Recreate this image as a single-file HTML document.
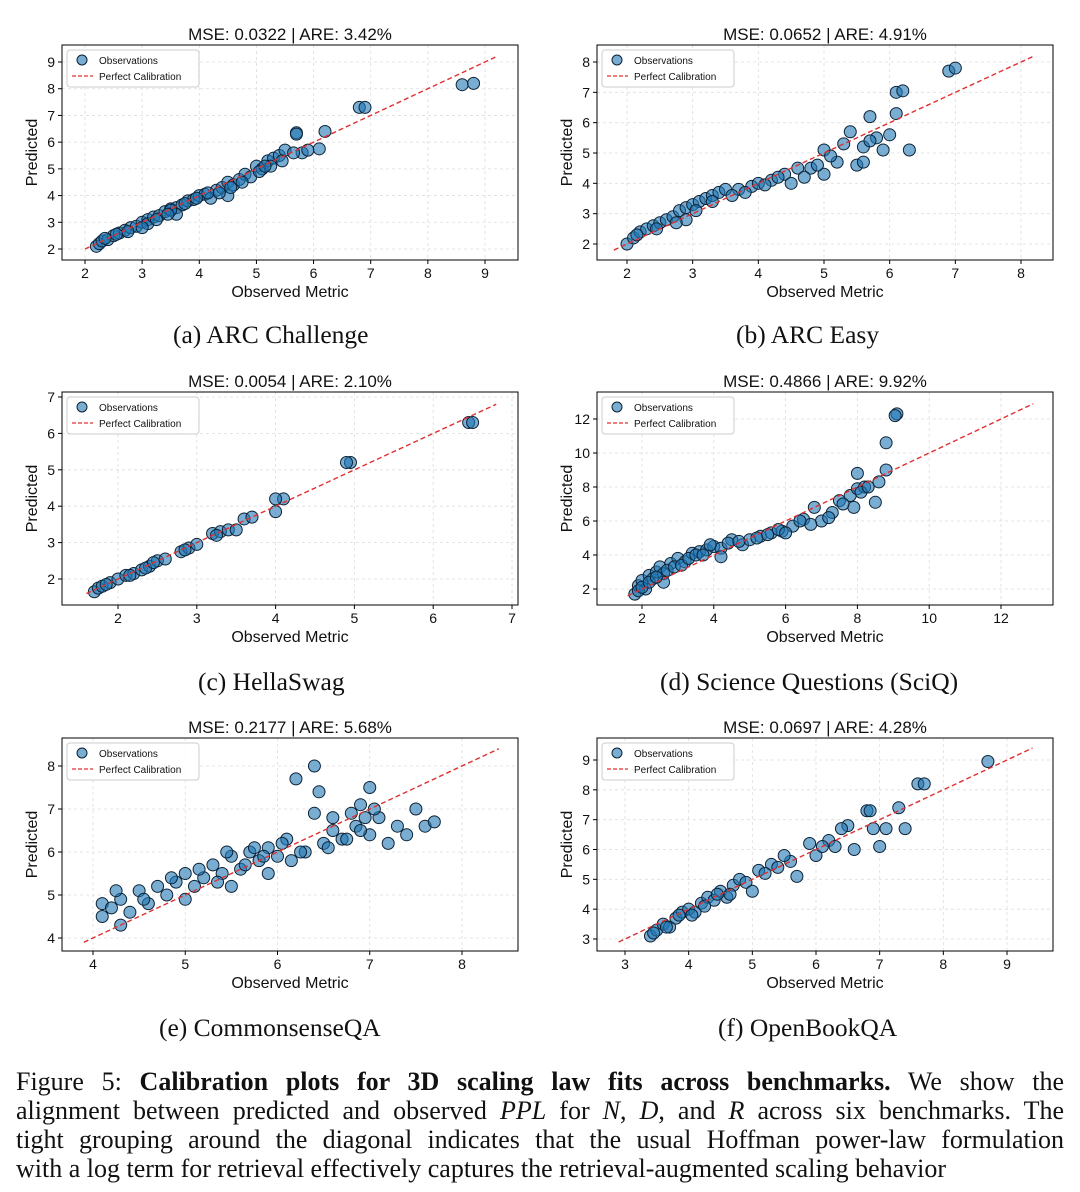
<!DOCTYPE html>
<html><head><meta charset="utf-8">
<style>
html,body{margin:0;padding:0;background:#fff;}
body{width:1080px;height:1192px;overflow:hidden;position:relative;}
svg{position:absolute;left:0;top:0;}
.cap{position:absolute;font-family:"Liberation Serif",serif;font-size:25.5px;color:#111;white-space:nowrap;}
#figcap{position:absolute;left:16px;top:1067px;width:1048px;font-family:"Liberation Serif",serif;font-size:26px;line-height:29px;color:#111;}
#figcap div{text-align:justify;text-align-last:justify;white-space:nowrap;}
</style></head><body>
<svg id="chart" width="1080" height="1192"></svg>
<div class="cap" style="left:173px;top:320px">(a) ARC Challenge</div>
<div class="cap" style="left:736px;top:320px">(b) ARC Easy</div>
<div class="cap" style="left:198px;top:667px">(c) HellaSwag</div>
<div class="cap" style="left:660px;top:667px">(d) Science Questions (SciQ)</div>
<div class="cap" style="left:159px;top:1013px">(e) CommonsenseQA</div>
<div class="cap" style="left:718px;top:1013px">(f) OpenBookQA</div>
<div id="figcap">
<div>Figure 5: <b>Calibration plots for 3D scaling law fits across benchmarks.</b> We show the</div>
<div>alignment between predicted and observed <i>PPL</i> for <i>N</i>, <i>D</i>, and <i>R</i> across six benchmarks. The</div>
<div>tight grouping around the diagonal indicates that the usual Hoffman power-law formulation</div>
<div style="text-align-last:left">with a log term for retrieval effectively captures the retrieval-augmented scaling behavior</div>
</div>
<script>
const titles=["MSE: 0.0322 | ARE: 3.42%","MSE: 0.0652 | ARE: 4.91%","MSE: 0.0054 | ARE: 2.10%","MSE: 0.4866 | ARE: 9.92%","MSE: 0.2177 | ARE: 5.68%","MSE: 0.0697 | ARE: 4.28%"];
const aX=[2.2,2.25,2.3,2.4,2.5,2.6,2.7,2.8,2.9,3.0,3.1,3.1,3.2,3.3,3.4,3.5,3.6,3.7,3.8,3.9,4.0,4.1,4.2,4.3,4.4,4.5,4.6,4.7,4.8,4.9,5.0,5.1,5.2,5.3,5.4,5.5,5.7,5.8,5.9,6.1,6.2,6.8,6.9,8.6,8.8,3.6,3.0,4.5,3.5,2.35,2.55,2.75,3.25,3.45,3.75,3.95,4.15,4.35,4.55,4.75,5.05,5.25,5.45,5.65,5.7,5.15];
const aY=[2.1,2.2,2.3,2.35,2.5,2.6,2.7,2.8,2.85,3.0,3.1,2.95,3.2,3.25,3.4,3.5,3.55,3.65,3.8,3.85,4.0,4.05,3.9,4.2,4.3,4.5,4.4,4.6,4.8,4.7,5.1,5.0,5.3,5.4,5.5,5.7,6.35,5.6,5.7,5.75,6.4,7.3,7.3,8.15,8.2,3.3,2.8,4.0,3.45,2.4,2.55,2.65,3.1,3.3,3.7,3.9,4.1,4.1,4.3,4.5,4.9,5.1,5.3,5.6,6.3,5.1];
const bX=[2.0,2.1,2.2,2.3,2.4,2.5,2.6,2.7,2.8,2.9,3.0,3.1,3.2,3.3,3.4,3.5,3.7,3.9,4.0,4.2,4.4,4.6,4.8,5.0,5.0,5.2,5.3,5.4,5.5,5.6,5.7,5.8,5.9,6.0,6.1,6.1,6.2,6.3,5.6,6.9,7.0,2.9,3.3,4.5,4.7,2.15,2.45,2.75,3.05,3.6,3.8,4.1,4.3,4.9,5.1,5.7];
const bY=[2.0,2.2,2.4,2.5,2.6,2.7,2.8,2.9,3.1,3.2,3.3,3.4,3.5,3.6,3.7,3.8,3.8,3.9,4.0,4.1,4.3,4.5,4.5,5.1,4.3,4.7,5.3,5.7,4.6,5.2,6.2,5.5,5.1,5.6,6.3,7.0,7.05,5.1,4.7,7.7,7.8,2.8,3.4,4.0,4.2,2.3,2.5,2.7,3.1,3.6,3.7,3.95,4.2,4.6,4.9,5.4];
const cX=[1.7,1.75,1.8,1.9,2.0,2.1,2.2,2.3,2.4,2.5,2.6,2.8,2.9,3.0,3.2,3.3,3.4,3.5,3.6,3.7,4.0,4.1,4.0,4.95,4.9,6.45,6.5,1.85,2.15,2.35,2.45,2.85,3.25];
const cY=[1.65,1.75,1.8,1.9,2.0,2.1,2.15,2.25,2.35,2.5,2.55,2.75,2.85,2.95,3.25,3.3,3.35,3.35,3.65,3.7,3.85,4.2,4.2,5.2,5.2,6.3,6.3,1.85,2.1,2.3,2.45,2.8,3.2];
const dX=[1.8,1.9,2.0,2.1,2.2,2.3,2.4,2.5,2.6,2.8,3.0,3.2,3.4,3.6,3.8,4.0,4.2,4.5,4.8,5.0,5.3,5.6,5.9,6.2,6.5,6.8,7.0,7.3,7.5,7.8,8.0,8.2,8.0,8.5,8.6,8.8,8.8,9.1,7.9,6.7,4.2,2.6,1.9,2.0,2.2,2.4,2.7,2.9,3.1,3.3,3.5,3.7,3.9,4.4,4.7,5.2,5.5,5.8,6.0,6.4,7.2,7.6,8.1,8.3,9.05];
const dY=[1.7,2.2,2.5,2.0,2.8,2.6,3.0,3.3,2.9,3.5,3.8,3.6,4.1,4.2,4.3,4.5,4.4,4.9,4.6,4.9,5.1,5.3,5.4,5.7,6.1,6.8,6.0,6.5,7.2,7.5,7.9,8.0,8.8,7.1,8.3,9.0,10.6,12.3,6.8,5.8,3.9,2.4,1.9,2.1,2.4,2.7,3.1,3.3,3.4,3.8,4.0,4.0,4.6,4.7,4.8,5.0,5.2,5.5,5.3,6.0,6.2,7.0,7.7,8.0,12.2];
const eX=[4.1,4.1,4.2,4.3,4.4,4.5,4.6,4.7,4.8,4.9,5.0,5.0,5.1,5.2,5.3,5.4,5.5,5.6,5.7,5.8,5.9,6.0,6.1,6.2,6.4,6.45,6.3,6.5,6.6,6.7,6.8,6.9,7.0,7.0,7.1,7.2,7.3,7.4,7.5,7.6,7.7,6.4,5.5,4.3,5.9,4.25,4.55,4.85,5.15,5.35,5.45,5.65,5.75,5.85,6.05,6.15,6.25,6.55,6.75,6.85,6.95,7.05,6.6,6.9];
const eY=[4.5,4.8,4.7,4.9,4.6,5.1,4.8,5.2,5.0,5.3,5.5,4.9,5.2,5.4,5.7,5.5,5.9,5.6,6.0,5.8,6.1,5.9,6.3,7.7,8.0,7.4,6.0,6.2,6.5,6.3,6.9,7.1,6.4,7.5,6.8,6.2,6.6,6.4,7.0,6.6,6.7,6.9,5.2,4.3,5.5,5.1,4.9,5.4,5.6,5.3,6.0,5.7,6.1,5.9,6.2,5.8,6.0,6.1,6.3,6.6,6.8,7.0,6.8,6.5];
const fX=[3.4,3.5,3.6,3.7,3.8,3.9,4.0,4.1,4.2,4.3,4.4,4.5,4.6,4.7,4.8,4.9,5.0,5.1,5.3,5.4,5.6,5.7,5.9,6.0,6.2,6.3,6.5,6.6,6.8,6.9,7.0,7.1,7.4,7.3,7.6,7.7,8.7,3.45,3.65,3.85,4.05,4.25,4.45,4.65,5.2,5.5,6.1,6.4,6.85];
const fY=[3.1,3.3,3.5,3.4,3.7,3.9,4.0,3.9,4.2,4.4,4.3,4.6,4.4,4.8,5.0,4.9,4.6,5.3,5.5,5.4,5.6,5.1,6.2,5.8,6.3,6.1,6.8,6.0,7.3,6.7,6.1,6.7,6.7,7.4,8.2,8.2,8.95,3.2,3.4,3.8,3.8,4.1,4.5,4.5,5.2,5.8,6.1,6.7,7.3];
const xTicks=[[2,3,4,5,6,7,8,9],[2,3,4,5,6,7,8],[2,3,4,5,6,7],[2,4,6,8,10,12],[4,5,6,7,8],[3,4,5,6,7,8,9]];
const yTicks=[[2,3,4,5,6,7,8,9],[2,3,4,5,6,7,8],[2,3,4,5,6,7],[2,4,6,8,10,12],[4,5,6,7,8],[3,4,5,6,7,8,9]];
const diag=[[2,9.2],[1.8,8.2],[1.6,6.8],[1.6,12.9],[3.9,8.4],[2.9,9.4]];
const series=[[aX,aY],[bX,bY],[cX,cY],[dX,dY],[eX,eY],[fX,fY]];
const frames=[[62,45,518,260],[597,45,1053,260],[62,392,518,605],[597,392,1053,605],[62,738,518,951],[597,738,1053,951]];
const xCal=[[85,2,485,9],[627,2,1021,8],[118,2,512,7],[642,2,1001,12],[93,4,462,8],[625,3,1007,9]];
const yCal=[[249,2,62,9],[244,2,62,8],[579,2,397,7],[589,2,419,12],[938,4,766,8],[939,3,760,9]];
const NS="http://www.w3.org/2000/svg";
const svg=document.getElementById('chart');
function mk(tag,attrs,parent){const e=document.createElementNS(NS,tag);for(const k in attrs)e.setAttribute(k,attrs[k]);(parent||svg).appendChild(e);return e;}
const F='"Liberation Sans","DejaVu Sans",sans-serif';
for(let p=0;p<6;p++){
  const [l,t,r,b]=frames[p];
  const g=mk('g',{});
  
  
  const xc=xCal[p],yc=yCal[p];
  const sx=v=>xc[0]+(v-xc[1])*(xc[2]-xc[0])/(xc[3]-xc[1]);
  const sy=v=>yc[0]+(v-yc[1])*(yc[2]-yc[0])/(yc[3]-yc[1]);
  xTicks[p].forEach(v=>{const x=sx(v);
    const gl=mk('line',{x1:x,x2:x,y1:t,y2:b,stroke:'#ddd','stroke-width':0.8,'stroke-dasharray':'3,3'},g);
    
    mk('line',{x1:x,x2:x,y1:b,y2:b+4,stroke:'#000','stroke-width':1},g);
    const tx=mk('text',{x:x,y:b+18,'text-anchor':'middle','font-size':14,'font-family':F,fill:'#111'},g);tx.textContent=v;
    });
  yTicks[p].forEach(v=>{const y=sy(v);
    const gl=mk('line',{x1:l,x2:r,y1:y,y2:y,stroke:'#ddd','stroke-width':0.8,'stroke-dasharray':'3,3'},g);
    
    mk('line',{x1:l-4,x2:l,y1:y,y2:y,stroke:'#000','stroke-width':1},g);
    const tx=mk('text',{x:l-7,y:y+5,'text-anchor':'end','font-size':14,'font-family':F,fill:'#111'},g);tx.textContent=v;
    });
  const [xs,ys]=series[p];
  for(let i=0;i<xs.length;i++){
    const c=mk('circle',{cx:sx(xs[i]),cy:sy(ys[i]),r:6,fill:'#1f77b4','fill-opacity':0.6,stroke:'#0d2235','stroke-width':1},g);
    
  }
  const d=diag[p];
  const dl=mk('line',{x1:sx(d[0]),y1:sy(d[0]),x2:sx(d[1]),y2:sy(d[1]),stroke:'#e03030','stroke-width':1.4,'stroke-dasharray':'5,3'},g);
  
  const fr=mk('rect',{x:l,y:t,width:r-l,height:b-t,fill:'none',stroke:'#000','stroke-width':1},g);
  
  const tt=mk('text',{x:(l+r)/2,y:t-5,'text-anchor':'middle','font-size':17,'font-family':F,fill:'#111'},g);tt.textContent=titles[p];
  
  const xl=mk('text',{x:(l+r)/2,y:b+37,'text-anchor':'middle','font-size':16,'font-family':F,fill:'#111'},g);xl.textContent='Observed Metric';
  
  const cy=(t+b)/2;
  const yl=mk('text',{x:l-25,y:cy,'text-anchor':'middle','font-size':16,'font-family':F,fill:'#111',transform:`rotate(-90 ${l-25} ${cy})`},g);yl.textContent='Predicted';
  
  const lg=mk('g',{},g);
  
  mk('rect',{x:l+5,y:t+5,width:132,height:37,rx:3,fill:'#fff','fill-opacity':0.85,stroke:'#ccc','stroke-width':1},lg);
  mk('circle',{cx:l+20,cy:t+15,r:5,fill:'#1f77b4','fill-opacity':0.6,stroke:'#0d2235','stroke-width':1},lg);
  const l1=mk('text',{x:l+37,y:t+19,'font-size':10,'font-family':F,fill:'#111'},lg);l1.textContent='Observations';
  
  mk('line',{x1:l+10,x2:l+31,y1:t+31,y2:t+31,stroke:'#e03030','stroke-width':1.3,'stroke-dasharray':'4,2'},lg);
  const l2=mk('text',{x:l+37,y:t+35,'font-size':10,'font-family':F,fill:'#111'},lg);l2.textContent='Perfect Calibration';
  
}
</script>
</body></html>
